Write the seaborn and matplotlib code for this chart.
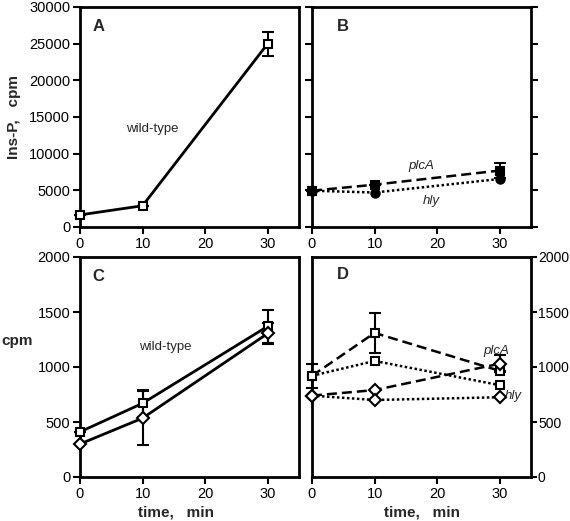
import numpy as np
import pandas as pd
import matplotlib
matplotlib.use("Agg")
import matplotlib.pyplot as plt
import seaborn as sns

sns.set_theme(style="ticks")
plt.rcParams['font.family'] = ['Liberation Sans', 'DejaVu Sans']

# ---------------- data ----------------
time = [0, 10, 30]

# Panel A: wild-type Ins-P (cpm)
a_wt = [1650, 2900, 25000]
a_wt_err = [0, 0, 1650]

# Panel B: mutants Ins-P (cpm)
b_plcA = [4950, 5770, 7700]
b_plcA_err = [0, 0, 1050]
b_hly = [4950, 4700, 6550]

# Panel C: wild-type cpm (squares / diamonds)
c_sq = [410, 670, 1370]
c_sq_err = [0, 125, 150]
c_di = [300, 535, 1305]
c_di_err = [0, 245, 95]

# Panel D: mutants cpm
d_plcA_sq = [920, 1310, 965]
d_plcA_sq_err = [110, 180, 0]
d_hly_sq = [920, 1055, 835]
d_plcA_di = [740, 790, 1030]
d_plcA_di_err = [0, 0, 75]
d_hly_di = [740, 700, 725]

W, H = 570, 521
fig = plt.figure(figsize=(W / 100, H / 100), dpi=100)

def rect(l, t, r, b):
    return [l / W, 1 - b / H, (r - l) / W, (b - t) / H]

axA = fig.add_axes(rect(80, 7, 299, 227))
axB = fig.add_axes(rect(312, 7, 531, 227))
axC = fig.add_axes(rect(80, 257, 299, 477))
axD = fig.add_axes(rect(312, 257, 531, 477))

TICKFS = 10.5

def style(ax, ylim, yticks):
    ax.set_xlim(0, 35)
    ax.set_ylim(*ylim)
    ax.set_xticks([0, 10, 20, 30])
    ax.set_yticks(yticks)
    for s in ax.spines.values():
        s.set_visible(True)
        s.set_linewidth(2)
        s.set_color('black')
    ax.tick_params(direction='out', length=5, width=1.5, labelsize=TICKFS,
                   colors='black', pad=2)
    ax.set_xlabel('')
    ax.set_ylabel('')
    leg = ax.get_legend()
    if leg is not None:
        leg.remove()

def series(ax, y, marker, ls, fill, err=None, ms=6, lw=2.0):
    df = pd.DataFrame({'time': time, 'val': y})
    sns.lineplot(data=df, x='time', y='val', ax=ax, color='black',
                 marker=marker, markersize=ms, markerfacecolor=fill,
                 markeredgecolor='black', markeredgewidth=1.5, linewidth=lw,
                 zorder=3, clip_on=False)
    ln = ax.lines[-1]
    ln.set_linestyle(ls)
    if err is not None:
        eb = ax.errorbar(time, y, yerr=err, fmt='none', ecolor='black',
                         elinewidth=1.5, capsize=4, capthick=1.5, zorder=2)
        for art in eb.lines[1] + eb.lines[2]:
            art.set_clip_on(False)

SQ = 6
DI = 6

# Panel A
series(axA, a_wt, 's', '-', 'white', a_wt_err, ms=SQ, lw=2)
style(axA, (0, 30000), [0, 5000, 10000, 15000, 20000, 25000, 30000])
axA.text(2.0, 27300, 'A', fontsize=12, fontweight='bold', va='center')
axA.text(11.6, 13400, 'wild-type', fontsize=9.5, ha='center', va='center')
axA.set_ylabel('Ins-P,   cpm', fontsize=11, fontweight='bold', labelpad=6)

# Panel B
series(axB, b_plcA, 's', (0, (4, 2)), 'black', b_plcA_err, ms=SQ, lw=1.8)
series(axB, b_hly, 'o', (0, (1, 1)), 'black', None, ms=SQ, lw=1.8)
style(axB, (0, 30000), [0, 5000, 10000, 15000, 20000, 25000, 30000])
axB.tick_params(axis='y', left=True, right=True, labelleft=False, labelright=False)
axB.text(4.0, 27300, 'B', fontsize=12, fontweight='bold', va='center')
axB.text(17.5, 8300, 'plcA', fontsize=9.5, style='italic', ha='center', va='center')
axB.text(19.1, 3500, 'hly', fontsize=9.5, style='italic', ha='center', va='center')

# Panel C
series(axC, c_sq, 's', '-', 'white', c_sq_err, ms=SQ, lw=2)
series(axC, c_di, 'D', '-', 'white', c_di_err, ms=DI, lw=2)
style(axC, (0, 2000), [0, 500, 1000, 1500, 2000])
axC.text(2.0, 1820, 'C', fontsize=12, fontweight='bold', va='center')
axC.text(13.6, 1180, 'wild-type', fontsize=9.5, ha='center', va='center')
axC.set_xlabel('time,   min', fontsize=11, fontweight='bold')
axC.xaxis.set_label_coords(0.44, -0.128)
axC.text(-0.285, 0.62, 'cpm', transform=axC.transAxes, fontsize=11,
         fontweight='bold', ha='center', va='center')

# Panel D
series(axD, d_plcA_sq, 's', (0, (4, 2)), 'white', d_plcA_sq_err, ms=SQ, lw=1.8)
series(axD, d_hly_sq, 's', (0, (1, 1)), 'white', None, ms=SQ, lw=1.8)
series(axD, d_plcA_di, 'D', (0, (4, 2)), 'white', d_plcA_di_err, ms=DI, lw=1.8)
series(axD, d_hly_di, 'D', (0, (1, 1)), 'white', None, ms=DI, lw=1.8)
style(axD, (0, 2000), [0, 500, 1000, 1500, 2000])
axD.yaxis.tick_right()
axD.tick_params(axis='y', left=False, right=True, labelleft=False,
                labelright=True, labelsize=10, pad=1, length=4)
axD.text(4.0, 1840, 'D', fontsize=12, fontweight='bold', va='center')
axD.text(29.5, 1145, 'plcA', fontsize=9.5, style='italic', ha='center', va='center')
axD.text(30.8, 740, 'hly', fontsize=9.5, style='italic', ha='left', va='center')
axD.set_xlabel('time,   min', fontsize=11, fontweight='bold')
axD.xaxis.set_label_coords(0.5, -0.128)

fig.savefig('out.png', dpi=100)
